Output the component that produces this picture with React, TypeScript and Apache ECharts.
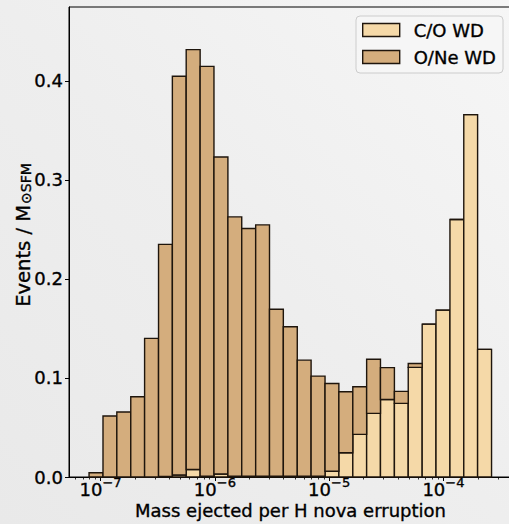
import React, { useEffect, useRef } from "react";
import * as echarts from "echarts";

// log10 of the bin edges (mass ejected, in solar masses)
const binEdges = [-7.101, -6.979, -6.858, -6.736, -6.615, -6.493, -6.372, -6.251, -6.129, -6.008,
  -5.886, -5.765, -5.643, -5.522, -5.401, -5.279, -5.158, -5.036, -4.915, -4.793,
  -4.672, -4.551, -4.429, -4.308, -4.186, -4.065, -3.943, -3.822, -3.701, -3.579];

// events per solar mass of star formation, per bin
const coWD = [0, 0, 0, 0, 0, 0.0005, 0.002, 0.0075, 0.0008, 0.003,
  0.0008, 0.0008, 0.0008, 0.0008, 0.0008, 0.0008, 0.0008, 0.0058, 0.0245, 0.0431,
  0.0643, 0.0782, 0.0744, 0.1107, 0.1544, 0.1685, 0.260, 0.366, 0.1289];
const oneWD = [0.0043, 0.0616, 0.0656, 0.081, 0.140, 0.2345, 0.4027, 0.4241, 0.4139, 0.3202,
  0.2619, 0.2502, 0.2538, 0.1687, 0.1509, 0.1172, 0.1011, 0.0887, 0.0616, 0.048,
  0.0547, 0.0323, 0.0121, 0.004, 0, 0, 0, 0, 0];

const seriesNames = ["C/O WD", "O/Ne WD"];
const majorTicks = [-7, -6, -5, -4];
const minorTickMasses = [6e-8, 7e-8, 8e-8, 9e-8,
  2e-7, 3e-7, 4e-7, 5e-7, 6e-7, 7e-7, 8e-7, 9e-7,
  2e-6, 3e-6, 4e-6, 5e-6, 6e-6, 7e-6, 8e-6, 9e-6,
  2e-5, 3e-5, 4e-5, 5e-5, 6e-5, 7e-5, 8e-5, 9e-5,
  2e-4, 3e-4];
const yTicks = [0, 0.1, 0.2, 0.3, 0.4];

const xMin = -7.2765;
const xMax = -3.40;
const yMax = 0.4747;

const FONT = "DejaVu Sans";
const CO_COLOR = "#f5d9a8";
const ONE_COLOR = "#d4ad7d";
const EDGE = "#1e150c";
const BOLDEN = { textBorderColor: "#000", textBorderWidth: 0.35 };

export default function App() {
  const ref = useRef<HTMLDivElement>(null);
  useEffect(() => {
    if (!ref.current) return;
    const chart = echarts.init(ref.current, null, { renderer: "svg" });

    const coData = coWD.map((v, i) => [binEdges[i], binEdges[i + 1], 0, v]);
    const oneData = oneWD.map((v, i) => [binEdges[i], binEdges[i + 1], coWD[i], coWD[i] + v]);

    const makeRender = (fill: string) => (params: any, api: any) => {
      const p0 = api.coord([api.value(0), api.value(2)]);
      const p1 = api.coord([api.value(1), api.value(3)]);
      return {
        type: "rect",
        shape: { x: p0[0], y: p1[1], width: p1[0] - p0[0], height: p0[1] - p1[1] },
        style: { fill, stroke: EDGE, lineWidth: 1.4 },
      };
    };

    const option: any = {
      animation: false,
      backgroundColor: {
        type: "linear", x: 0, y: 1, x2: 1, y2: 0,
        colorStops: [
          { offset: 0, color: "#e9e9e9" },
          { offset: 0.5, color: "#eeeeee" },
          { offset: 1, color: "#f6f6f6" },
        ],
      },
      textStyle: { fontFamily: FONT },
      grid: {
        left: 69, top: 7, width: 443, height: 470,
        containLabel: false,
        outerBoundsMode: "none",
        show: true, borderColor: "#000", borderWidth: 1, backgroundColor: "transparent",
      },
      legend: {
        orient: "vertical",
        left: 356, top: 16,
        padding: [4, 7, 6, 6],
        itemGap: 7,
        itemWidth: 37, itemHeight: 13,
        borderColor: "#cccccc", borderWidth: 1, borderRadius: 4,
        backgroundColor: "rgba(246,246,246,0.85)",
        textStyle: { fontFamily: FONT, fontSize: 18, color: "#000", lineHeight: 20, padding: [0, 0, 0, 9], ...BOLDEN },
        data: [
          { name: seriesNames[0], icon: "rect", itemStyle: { color: CO_COLOR, borderColor: EDGE, borderWidth: 1.4 } },
          { name: seriesNames[1], icon: "rect", itemStyle: { color: ONE_COLOR, borderColor: EDGE, borderWidth: 1.4 } },
        ],
      },
      xAxis: [
        {
          type: "value", min: xMin, max: xMax, position: "bottom",
          axisLine: { show: true, lineStyle: { color: "#000", width: 1 } },
          axisTick: { show: true, customValues: majorTicks, length: 4, lineStyle: { color: "#000", width: 1 } },
          splitLine: { show: false },
          axisLabel: {
            customValues: majorTicks,
            margin: 3,
            formatter: (v: number) => `{b|10}{s|\u2212${Math.round(-v)}}`,
            rich: {
              b: { fontFamily: FONT, fontSize: 18, color: "#000", lineHeight: 18, ...BOLDEN },
              s: { fontFamily: FONT, fontSize: 13, color: "#000", lineHeight: 13, padding: [0, 0, 14, 0], ...BOLDEN },
            },
          },
          name: "Mass ejected per H nova erruption",
          nameLocation: "middle",
          nameGap: 24,
          nameMoveOverlap: false,
          nameTextStyle: { fontFamily: FONT, fontSize: 18, color: "#000", ...BOLDEN },
        },
        {
          type: "value", min: xMin, max: xMax, position: "bottom",
          axisLine: { show: false },
          axisTick: { show: true, customValues: minorTickMasses.map((m) => Math.log10(m)), length: 2.5, lineStyle: { color: "#000", width: 0.8 } },
          axisLabel: { show: false },
          splitLine: { show: false },
        },
      ],
      yAxis: {
        type: "value", min: 0, max: yMax,
        axisLine: { show: true, lineStyle: { color: "#000", width: 1 } },
        axisTick: { show: true, customValues: yTicks, length: 4, lineStyle: { color: "#000", width: 1 } },
        axisLabel: {
          customValues: yTicks,
          margin: 6,
          fontFamily: FONT, fontSize: 18, color: "#000", ...BOLDEN,
          formatter: (v: number) => v.toFixed(1),
        },
        splitLine: { show: false },
      },
      graphic: [
        {
          type: "text",
          x: 23, y: 235,
          rotation: Math.PI / 2,
          style: {
            text: "{m|Events / M}{s|\u2299SFM}",
            align: "center",
            verticalAlign: "middle",
            rich: {
              m: { fontFamily: FONT, fontSize: 19.5, fill: "#000", lineHeight: 22, stroke: "#000", lineWidth: 0.35 },
              s: { fontFamily: FONT, fontSize: 14, fill: "#000", lineHeight: 15, padding: [5, 0, 0, 1], stroke: "#000", lineWidth: 0.35 },
            },
          },
        },
      ],
      series: [
        {
          name: seriesNames[0], type: "custom", xAxisIndex: 0, yAxisIndex: 0,
          itemStyle: { color: CO_COLOR, borderColor: EDGE, borderWidth: 1.4 },
          encode: { x: [0, 1], y: [2, 3] },
          data: coData,
          renderItem: makeRender(CO_COLOR),
          z: 2,
        },
        {
          name: seriesNames[1], type: "custom", xAxisIndex: 0, yAxisIndex: 0,
          itemStyle: { color: ONE_COLOR, borderColor: EDGE, borderWidth: 1.4 },
          encode: { x: [0, 1], y: [2, 3] },
          data: oneData,
          renderItem: makeRender(ONE_COLOR),
          z: 2,
        },
      ],
    };
    chart.setOption(option);
    return () => chart.dispose();
  }, []);
  return (
    <div
      ref={ref}
      style={{ position: "absolute", left: 0, top: 0, width: 509, height: 524 }}
    />
  );
}
